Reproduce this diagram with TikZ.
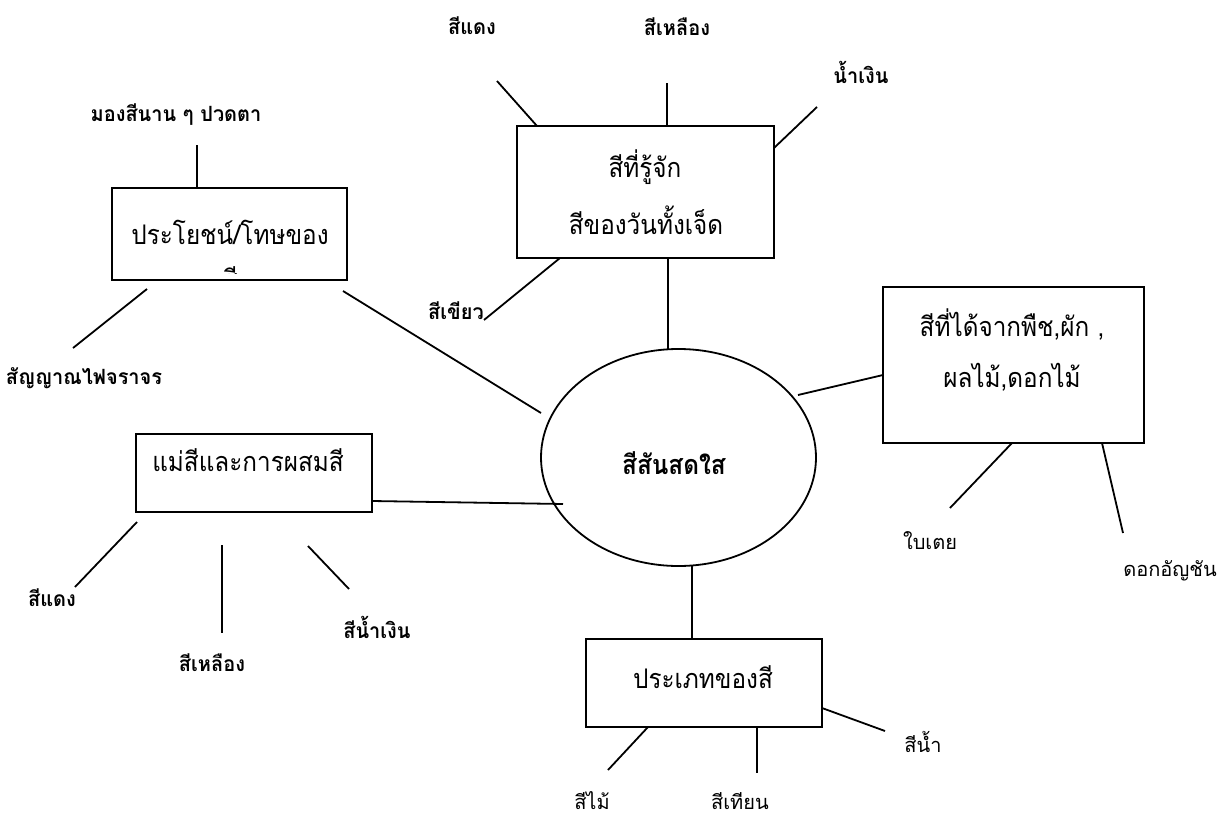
\documentclass[tikz,border=0pt]{standalone}
\usepackage{fontspec}
\newfontfamily\thai[Script=Thai]{Loma}
\newfontfamily\thaic[Script=Thai,FakeStretch=0.9]{Loma}
\newfontfamily\thaib[Script=Thai,FakeStretch=0.95]{Loma}
\usetikzlibrary{shapes.geometric}
\begin{document}
\begin{tikzpicture}[x=1pt,y=-1pt,
  box/.style={draw, line width=1.8pt, inner sep=0pt, outer sep=0pt},
  oval/.style={ellipse, draw, line width=1.8pt, inner sep=0pt, outer sep=0pt},
  lbl/.style={inner sep=0pt, font=\thai\fontsize{20}{24}\selectfont},
  blbl/.style={inner sep=0pt, font=\thaib\bfseries\fontsize{21}{25}\selectfont},
  btxt/.style={inner sep=0pt, font=\thaic\fontsize{27}{32}\selectfont},
  ctxt/.style={inner sep=0pt, font=\thaic\bfseries\fontsize{27}{32}\selectfont},
  conn/.style={line width=1.8pt}]
\useasboundingbox (0,0) rectangle (1227,819);
\fill[white] (0,0) rectangle (1227,819);

% main boxes
\node[box, minimum width=235pt, minimum height=92pt] (b1) at (229.5,234) {};
\node[box, minimum width=257pt, minimum height=132pt] (b2) at (645.5,192) {};
\node[box, minimum width=261pt, minimum height=156pt] (b3) at (1013.5,365) {};
\node[box, minimum width=236pt, minimum height=78pt] (b4) at (254,473) {};
\node[box, minimum width=236pt, minimum height=88pt] (b5) at (704,683) {};
\node[oval, minimum width=275pt, minimum height=217pt] (c) at (678.5,457.5) {};

% texts in boxes
\node[btxt] (b1t) at (230,232) {ประโยชน์/โทษของ};
\begin{scope}
  \clip (112,188) rectangle (347,273);
  \node[btxt, anchor=base] (b1u) at (230,289) {สี};
\end{scope}
\node[btxt] (b2t) at (645,167) {สีที่รู้จัก};
\node[btxt] (b2u) at (646,220) {สีของวันทั้งเจ็ด};
\node[btxt] (b3t) at (1012,325) {สีที่ได้จากพืช,ผัก ,};
\node[btxt] (b3u) at (1012,377) {ผลไม้,ดอกไม้};
\node[btxt] (b4t) at (248,460) {แม่สีและการผสมสี};
\node[btxt] (b5t) at (703,677) {ประเภทของสี};
\node[ctxt] (ct) at (674,463) {สีสันสดใส};

% outer labels
\node[blbl] (l1) at (176,115) {มองสีนาน ๆ ปวดตา};
\node[blbl] (l2) at (84,378) {สัญญาณไฟจราจร};
\node[blbl] (l3) at (472,26) {สีแดง};
\node[blbl] (l4) at (677,27) {สีเหลือง};
\node[blbl] (l5) at (861,72) {น้ำเงิน};
\node[blbl] (l6) at (456,311) {สีเขียว};
\node[lbl] (l7) at (930,541) {ใบเตย};
\node[lbl] (l8) at (1170,571) {ดอกอัญชัน};
\node[blbl] (l9) at (52,598) {สีแดง};
\node[blbl] (l10) at (212,663) {สีเหลือง};
\node[blbl] (l11) at (377,627) {สีน้ำเงิน};
\node[lbl] (l12) at (592,801) {สีไม้};
\node[lbl] (l13) at (740,801) {สีเทียน};
\node[lbl] (l14) at (923,742) {สีน้ำ};

% connector end points
\coordinate (p1a) at (197,145);  \coordinate (p1b) at (197,188);
\coordinate (p2a) at (147,289);  \coordinate (p2b) at (73,348);
\coordinate (p3a) at (343,291);  \coordinate (p3b) at (541,413);
\coordinate (p4a) at (497,81);   \coordinate (p4b) at (537,126);
\coordinate (p5a) at (667,83);   \coordinate (p5b) at (667,126);
\coordinate (p6a) at (817,107);  \coordinate (p6b) at (774,148);
\coordinate (p7a) at (560,258);  \coordinate (p7b) at (484,320);
\coordinate (p8a) at (668,258);  \coordinate (p8b) at (668,349);
\coordinate (p9a) at (798,395);  \coordinate (p9b) at (883,375);
\coordinate (p10a) at (1012,443); \coordinate (p10b) at (950,508);
\coordinate (p11a) at (1102,443); \coordinate (p11b) at (1123,533);
\coordinate (p12a) at (372,501);  \coordinate (p12b) at (563,504);
\coordinate (p13a) at (137,522);  \coordinate (p13b) at (75,587);
\coordinate (p14a) at (222,545);  \coordinate (p14b) at (222,633);
\coordinate (p15a) at (308,546);  \coordinate (p15b) at (349,589);
\coordinate (p16a) at (692,566);  \coordinate (p16b) at (692,639);
\coordinate (p17a) at (648,727);  \coordinate (p17b) at (608,770);
\coordinate (p18a) at (757,727);  \coordinate (p18b) at (757,773);
\coordinate (p19a) at (822,708);  \coordinate (p19b) at (885,731);

\foreach \i in {1,...,19} \draw[conn] (p\i a) -- (p\i b);
\end{tikzpicture}
\end{document}
